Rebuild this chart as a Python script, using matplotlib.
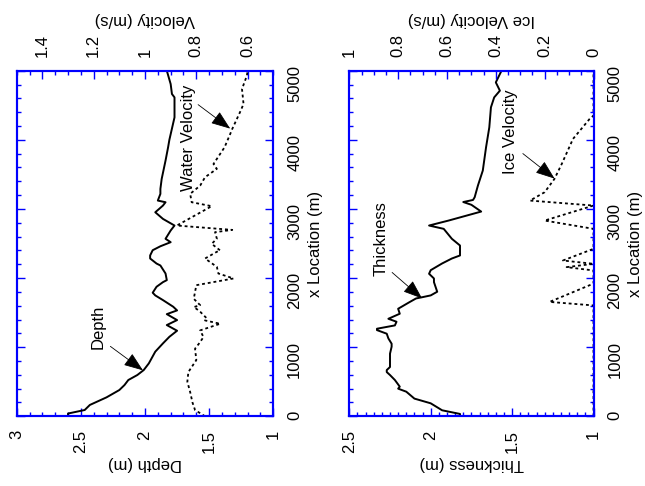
import numpy as np
import matplotlib
matplotlib.use("Agg")
import matplotlib.pyplot as plt
from matplotlib.ticker import MultipleLocator, FormatStrFormatter

# the original figure is printed turned by 90 degrees, so x location runs upward

# top panel: depth and water velocity along the channel
depth_x = [0, 40, 91, 164, 274, 380, 452, 525, 597, 669, 766, 935, 1055, 1150, 1238,
           1320, 1392, 1478, 1532, 1585, 1681, 1749, 1788, 1874, 1941, 1970, 2066,
           2182, 2210, 2283, 2327, 2403, 2460, 2519, 2568, 2688, 2760, 2856, 2952,
           3000, 3049, 3097, 3121, 3218, 3290, 3434, 3699, 3892, 4000, 4325, 4614,
           4663, 4807, 5000]
depth = [2.60, 2.60, 2.47, 2.43, 2.30, 2.20, 2.16, 2.13, 2.06, 2.01, 1.97, 1.92, 1.86,
         1.81, 1.75, 1.83, 1.75, 1.83, 1.75, 1.78, 1.86, 1.92, 1.94, 1.91, 1.86, 1.83,
         1.84, 1.88, 1.91, 1.96, 1.96, 1.94, 1.88, 1.80, 1.84, 1.80, 1.77, 1.86, 1.92,
         1.89, 1.86, 1.84, 1.90, 1.88, 1.88, 1.87, 1.84, 1.82, 1.81, 1.77, 1.77, 1.79,
         1.80, 1.83]

wvel_x = [0, 91, 200, 351, 500, 640, 814, 978, 1050, 1146, 1243, 1339, 1387, 1416,
          1513, 1556, 1580, 1608, 1700, 1897, 1994, 2066, 2162, 2283, 2380, 2399, 2495,
          2570, 2664, 2697, 2760, 3040, 3097, 3218, 3338, 3459, 3580, 3651, 3892, 4084,
          4157, 4398, 4518, 4735, 4928, 5000]
wvel = [0.766, 0.805, 0.815, 0.824, 0.835, 0.831, 0.800, 0.805, 0.790, 0.772, 0.785,
        0.707, 0.766, 0.759, 0.785, 0.800, 0.810, 0.785, 0.810, 0.800, 0.655, 0.714,
        0.720, 0.766, 0.720, 0.707, 0.740, 0.720, 0.727, 0.660, 0.876, 0.740, 0.818,
        0.824, 0.785, 0.766, 0.720, 0.733, 0.690, 0.668, 0.660, 0.630, 0.616, 0.622,
        0.603, 0.600]

# bottom panel: ice thickness and ice velocity
thick_x = [0, 34, 87, 116, 188, 256, 356, 400, 429, 525, 597, 640, 669, 713, 814, 906,
           1007, 1050, 1127, 1195, 1247, 1267, 1315, 1368, 1411, 1484, 1556, 1652, 1705,
           1724, 1749, 1802, 1941, 1994, 2062, 2114, 2211, 2283, 2327, 2471, 2568, 2712,
           2760, 2832, 2962, 3060, 3100, 3130, 3169, 3338, 3483, 3555, 3892, 4181, 4470,
           4614, 4711, 4783, 4831, 5000]
thick = [1.82, 1.82, 1.93, 1.95, 2.00, 2.10, 2.15, 2.20, 2.19, 2.22, 2.25, 2.27, 2.27,
         2.25, 2.25, 2.25, 2.24, 2.24, 2.26, 2.27, 2.33, 2.33, 2.22, 2.21, 2.26, 2.19,
         2.20, 2.13, 2.09, 2.05, 2.00, 1.96, 1.98, 1.98, 2.01, 2.00, 1.93, 1.87, 1.82,
         1.82, 1.87, 1.92, 2.01, 1.89, 1.69, 1.75, 1.80, 1.74, 1.73, 1.71, 1.69, 1.68,
         1.66, 1.64, 1.63, 1.61, 1.575, 1.59, 1.60, 1.565]

ivel_x = [0, 1604, 1655, 1920, 2110, 2158, 2206, 2254, 2423, 2712, 2832, 3049, 3121,
          3242, 3434, 3651, 4013, 4302, 4350, 5000]
ivel = [0, 0, 0.18, 0, 0, 0.11, 0, 0.125, 0, 0, 0.20, 0, 0.26, 0.20, 0.16, 0.13,
        0.084, 0.016, 0, 0]

plt.rcParams["font.family"] = ["Liberation Sans", "DejaVu Sans"]
plt.rcParams["font.size"] = 12

frame = "#0000ff"
W, H = 645, 486

fig = plt.figure(figsize=(W / 100, H / 100), dpi=100)


def panel(x0, x1, lim, major, minor, tlim, tmajor, tminor, label, tlabel):
    ax = fig.add_axes([x0 / W, 1 - 416.3 / H, (x1 - x0) / W, (416.3 - 70.7) / H])
    ax.set_xlim(*lim)
    ax.set_ylim(0, 5000)
    ax.xaxis.set_major_locator(MultipleLocator(major))
    ax.xaxis.set_minor_locator(MultipleLocator(minor))
    ax.xaxis.set_major_formatter(FormatStrFormatter("%g"))
    ax.yaxis.set_major_locator(MultipleLocator(1000))
    ax.yaxis.set_minor_locator(MultipleLocator(200))
    ax.tick_params(axis="y", which="both", left=True, right=True,
                   labelleft=False, labelright=True, labelrotation=90)
    ax.tick_params(axis="x", which="both", bottom=True, top=False, labelrotation=90)
    ax.set_xlabel(label, rotation=180, labelpad=2)
    ax.set_ylabel("x Location (m)", rotation=90, labelpad=4)
    ax.yaxis.set_label_position("right")

    tw = ax.twiny()
    tw.set_xlim(*tlim)
    tw.xaxis.set_major_locator(MultipleLocator(tmajor))
    tw.xaxis.set_minor_locator(MultipleLocator(tminor))
    tw.xaxis.set_major_formatter(FormatStrFormatter("%g"))
    tw.tick_params(axis="x", which="both", labelrotation=90)
    tw.set_xlabel(tlabel, rotation=180, va="bottom", labelpad=5)

    for a in (ax, tw):
        a.tick_params(which="both", direction="in", color=frame, width=1, pad=10)
        a.tick_params(which="major", length=6)
        a.tick_params(which="minor", length=3)
        for s in a.spines.values():
            s.set_color(frame)
            s.set_linewidth(1.5)
    ax.set_zorder(1)
    tw.set_zorder(2)
    return ax, tw


ax1, ax1t = panel(16.7, 273.3, (3, 1), 0.5, 0.1, (1.5, 0.5), 0.2, 0.05,
                  "Depth (m)", "Velocity (m/s)")
ax2, ax2t = panel(349.3, 593.5, (2.5, 1), 0.5, 0.05, (1, 0), 0.2, 0.05,
                  "Thickness (m)", "Ice Velocity (m/s)")

ax1.plot(depth, depth_x, color="black", lw=1.4)
ax1t.plot(wvel, wvel_x, color="black", lw=1.3, linestyle=(0, (1.6, 1.6)))
ax2.plot(thick, thick_x, color="black", lw=1.4)
ax2t.plot(ivel, ivel_x, color="black", lw=1.3, linestyle=(0, (1.6, 1.6)))

arrow = dict(arrowstyle="-|>,head_length=0.8,head_width=0.3", color="black",
             lw=0.6, mutation_scale=15, shrinkA=0, shrinkB=0)

ax1.text(2.367, 1300, "Depth", rotation=90, ha="center", va="center")
ax1.annotate("", xy=(2.016, 665), xytext=(2.27, 1012), arrowprops=arrow)
ax1.text(1.664, 4032, "Water Velocity", rotation=90, ha="center", va="center")
ax1.annotate("", xy=(1.336, 4162), xytext=(1.586, 4509), arrowprops=arrow)

ax2.text(2.304, 2572, "Thickness", rotation=90, ha="center", va="center")
ax2.annotate("", xy=(2.053, 1705), xytext=(2.237, 2081), arrowprops=arrow)
ax2.text(1.508, 4118, "Ice Velocity", rotation=90, ha="center", va="center")
ax2.annotate("", xy=(1.239, 3439), xytext=(1.434, 3801), arrowprops=arrow)

fig.savefig("out.png", dpi=100)
